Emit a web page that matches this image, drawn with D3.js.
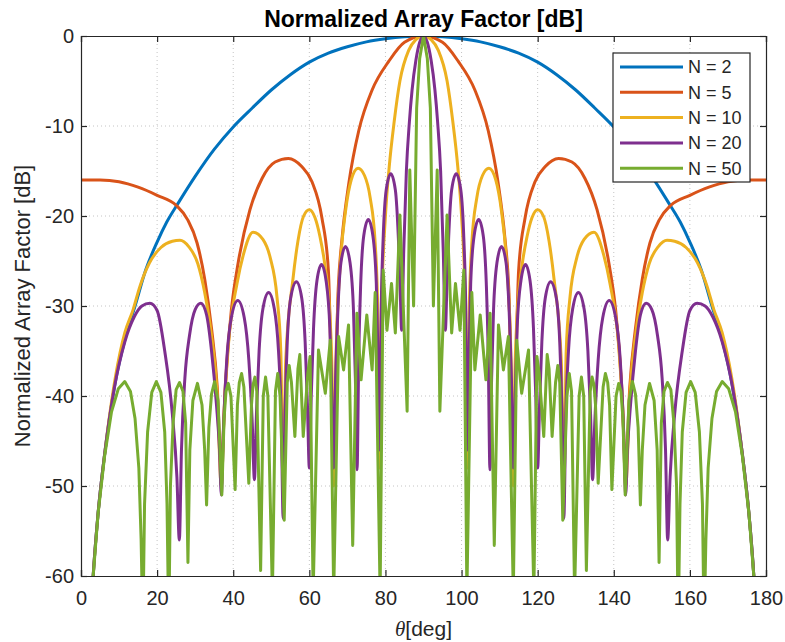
<!DOCTYPE html>
<html>
<head>
<meta charset="utf-8">
<script src="https://cdn.jsdelivr.net/npm/d3@7/dist/d3.min.js"></script>
<style>
  body { margin: 0; background: #fff; }
  text { font-family: "Liberation Sans", Arial, sans-serif; fill: #262626; }
</style>
</head>
<body>
<div id="chart"></div>
<script>
// ---- data: [theta in deg, level in dB] ----
const xTicks = [0, 20, 40, 60, 80, 100, 120, 140, 160, 180];
const yTicks = [0, -10, -20, -30, -40, -50, -60];
const seriesNames = ['N = 2', 'N = 5', 'N = 10', 'N = 20', 'N = 50'];
const seriesColors = ['#0072BD', '#D95319', '#EDB120', '#7E2F8E', '#77AC30'];

const af2 = [[0,-90],[2,-70],[3.2,-60],[4.5,-53],[6.2,-46.5],[9,-38.5],[12,-33],[14.2,-30],[17,-26],[20,-22.9],[22.5,-20.7],[25.5,-18.6],[30,-15.6],[35,-12.6],[40,-10.1],[45,-8],[50,-6],[55,-4.3],[60,-2.9],[65,-1.9],[70,-1.2],[75,-0.65],[80,-0.3],[85,-0.08],[90,0],
  [95,-0.08],[100,-0.3],[105,-0.65],[110,-1.2],[115,-1.9],[120,-2.9],[125,-4.3],[130,-6],[135,-8],[140,-10.1],[145,-12.6],[150,-15.6],[154.5,-18.6],[157.5,-20.7],[160,-22.9],[163,-26],[165.8,-30],[168,-33],[171,-38.5],[173.8,-46.5],[175.5,-53],[176.8,-60],[178,-70],[180,-90]];

const af5 = [[0,-16],[5,-16],[10,-16.2],[15,-16.8],[20,-17.7],[25,-18.8],[28,-20.4],[30.5,-23],[32.5,-27],[34.3,-32.5],[35.8,-39],[36.87,-48],[37.9,-39],[39.5,-30.5],[41.3,-25.2],[44.4,-19.3],[47.6,-15.8],[51,-14],[54.5,-13.6],[58,-14.5],[60.7,-16.2],[63.3,-20.2],[65,-26],[66.42,-45],[67.6,-28],[68.6,-22.5],[70.4,-16.3],[73,-10.5],[76.5,-6],[80.9,-2.8],[85,-0.7],[90,0],
  [95,-0.7],[99.1,-2.8],[103.5,-6],[107,-10.5],[109.6,-16.3],[111.4,-22.5],[112.4,-28],[113.58,-45],[115,-26],[116.7,-20.2],[119.3,-16.2],[122,-14.5],[125.5,-13.6],[129,-14],[132.4,-15.8],[135.6,-19.3],[138.7,-25.2],[140.5,-30.5],[142.1,-39],[143.13,-48],[144.2,-39],[145.7,-32.5],[147.5,-27],[149.5,-23],[152,-20.4],[155,-18.8],[160,-17.7],[165,-16.8],[170,-16.2],[175,-16],[180,-16]];

const af10 = [[0,-90],[2,-70],[3.2,-60],[4.5,-53],[6.2,-46.5],[9,-38],[11.5,-33],[13.7,-30.4],[15.5,-27.8],[18,-25.2],[21,-23.5],[24,-22.8],[26,-22.7],[28.3,-23.4],[30.7,-25.3],[32.5,-28.5],[34.2,-33],[35.8,-40],[36.87,-50],
  [37.6,-42],[38.8,-34],[41,-27.5],[42.6,-24.4],[45.2,-21.8],[47.8,-22.6],[49.7,-24.6],[51.5,-29],[52.5,-35],[53.13,-50],
  [53.8,-36],[55.7,-27],[57,-22.8],[58.5,-20],[60,-19.3],[61.5,-20.2],[62.8,-22.3],[64.1,-25.5],[65.4,-31],[66,-38],[66.42,-50],
  [67,-36],[68.2,-25],[69.5,-19.5],[71,-16],[72.8,-14.7],[74.5,-15.5],[76,-18],[77.3,-23],[78,-31],[78.46,-48],
  [79,-30],[80,-20],[81,-14.5],[82.3,-9.5],[83.8,-5],[86.1,-1.6],[88,-0.4],[90,0],
  [92,-0.4],[93.9,-1.6],[96.2,-5],[97.7,-9.5],[99,-14.5],[100,-20],[101,-30],[101.54,-48],
  [102,-31],[102.7,-23],[104,-18],[105.5,-15.5],[107.2,-14.7],[109,-16],[110.5,-19.5],[111.8,-25],[113,-36],[113.58,-50],
  [114,-38],[114.6,-31],[115.9,-25.5],[117.2,-22.3],[118.5,-20.2],[120,-19.3],[121.5,-20],[123,-22.8],[124.3,-27],[126.2,-36],[126.87,-50],
  [127.5,-35],[128.5,-29],[130.3,-24.6],[132.2,-22.6],[134.8,-21.8],[137.4,-24.4],[139,-27.5],[141.2,-34],[142.4,-42],[143.13,-50],
  [144.2,-40],[145.8,-33],[147.5,-28.5],[149.3,-25.3],[151.7,-23.4],[154,-22.7],[156,-22.8],[159,-23.5],[162,-25.2],[164.5,-27.8],[166.3,-30.4],[168.5,-33],[171,-38],[173.8,-46.5],[175.5,-53],[176.8,-60],[178,-70],[180,-90]];

const af20 = [[0,-90],[2,-70],[3.2,-60],[4.5,-53],[6.2,-46.5],[8.8,-39],[11.5,-34],[14,-31.2],[16,-30],[18.1,-29.7],[20,-30.5],[22,-35],[24,-42],[25.2,-49],[25.84,-56],
  [26.4,-46],[27.3,-38],[28.5,-33.3],[30,-30.4],[31.5,-29.7],[33,-31],[34.3,-35],[35.6,-41],[36.4,-46],[36.87,-51],
  [37.4,-44],[38.3,-36],[39.5,-31.3],[41.2,-29.4],[42.9,-31.3],[44.1,-36],[45,-43],[45.57,-49.3],
  [46.1,-42],[46.8,-35],[47.8,-30.3],[49.3,-28.5],[50.8,-30.3],[51.9,-35],[52.6,-42],[53.13,-53.6],
  [53.6,-42],[54.2,-34],[55.1,-29.1],[56.6,-27.3],[58,-29.1],[58.9,-34],[59.5,-41],[60,-48],
  [60.5,-40],[61.1,-32.5],[62,-27.2],[63.2,-25.4],[64.4,-27.2],[65.4,-32.5],[65.9,-40],[66.42,-48],
  [66.9,-38],[67.5,-30.5],[68.3,-25.2],[69.5,-23.4],[70.7,-25.2],[71.6,-30.5],[72.1,-38],[72.54,-48.2],
  [73,-35],[73.5,-27.5],[74.3,-22.2],[75.5,-20.4],[76.7,-22.2],[77.6,-27.5],[78,-35],[78.46,-46],
  [78.9,-30],[79.4,-22.5],[80.2,-17.1],[81.4,-15.3],[82.6,-17.1],[83.4,-22.5],[83.8,-27],[84.26,-32.7],
  [84.8,-24],[85.5,-15],[86.3,-9.5],[87,-6],[88,-2.7],[89,-0.7],[90,0],
  [91,-0.7],[92,-2.7],[93,-6],[93.7,-9.5],[94.5,-15],[95.2,-24],[95.74,-32.7],
  [96.2,-27],[96.6,-22.5],[97.4,-17.1],[98.6,-15.3],[99.8,-17.1],[100.6,-22.5],[101.1,-30],[101.54,-46],
  [102,-35],[102.4,-27.5],[103.3,-22.2],[104.5,-20.4],[105.7,-22.2],[106.5,-27.5],[107,-35],[107.46,-48.2],
  [107.9,-38],[108.4,-30.5],[109.3,-25.2],[110.5,-23.4],[111.7,-25.2],[112.5,-30.5],[113.1,-38],[113.58,-48],
  [114.1,-40],[114.6,-32.5],[115.6,-27.2],[116.8,-25.4],[118,-27.2],[118.9,-32.5],[119.5,-40],[120,-48],
  [120.5,-41],[121.1,-34],[122,-29.1],[123.4,-27.3],[124.9,-29.1],[125.8,-34],[126.4,-42],[126.87,-53.6],
  [127.4,-42],[128.1,-35],[129.2,-30.3],[130.7,-28.5],[132.2,-30.3],[133.2,-35],[133.9,-42],[134.43,-49.3],
  [135,-43],[135.9,-36],[137.1,-31.3],[138.8,-29.4],[140.5,-31.3],[141.7,-36],[142.6,-44],[143.13,-51],
  [143.6,-46],[144.4,-41],[145.7,-35],[147,-31],[148.5,-29.7],[150,-30.4],[151.5,-33.3],[152.7,-38],[153.6,-46],[154.16,-56],
  [154.8,-49],[156,-42],[158,-35],[160,-30.5],[161.9,-29.7],[164,-30],[166,-31.2],[168.5,-34],[171.2,-39],[173.8,-46.5],[175.5,-53],[176.8,-60],[178,-70],[180,-90]];

const af50 = [[0,-90],[2,-70],[3.2,-60],[4.5,-53],[6.2,-46.7],[8,-41.8],[9.8,-39.2],[11.5,-38.4],[13,-39.5],[14.2,-42.5],[15.2,-48],[15.8,-56],[16.26,-66],
  [16.7,-52],[17.5,-44],[18.6,-39.6],[19.8,-38.4],[21,-39.6],[22,-44],[22.6,-52],[23.07,-66],
  [23.5,-50],[24.2,-43],[25,-39.3],[25.9,-38.5],[26.8,-39.5],[27.5,-43],[28.1,-58.5],
  [28.6,-46],[29.4,-40.5],[30.6,-38.6],[31.8,-41],[32.5,-46],[33,-52.1],
  [33.6,-43.5],[34.3,-39.8],[35.1,-38.4],[36,-40.5],[37,-51],
  [37.6,-42.5],[38.1,-39.5],[38.7,-38.6],[39.4,-40],[40.5,-50.4],
  [41.1,-41],[41.6,-38.5],[42.2,-37.5],[42.8,-39],[44.1,-49.7],
  [44.8,-41],[45.2,-38.8],[45.7,-37.9],[46.2,-39.5],[47.2,-59.4],
  [47.9,-40],[48.5,-37.9],[49.1,-40],[50.3,-62],
  [51.1,-39.5],[51.7,-37.5],[52.3,-40],[53.4,-53.8],
  [54.2,-38.5],[54.7,-36.6],[55.3,-38.5],[56.2,-44.5],
  [57,-37],[57.5,-35.4],[58.4,-44.5],
  [59.6,-37.5],[60.2,-35.6],[61,-62],
  [62.4,-34.9],[64.2,-39.7],[65.5,-33.8],[66.4,-62],
  [67.7,-33.4],[69,-37.1],[70.3,-32.1],[71.4,-56.6],[72.5,-30.8],[73.6,-38.2],[75.1,-31],[76.5,-37.1],[77.3,-28.5],[78.6,-62],
  [79.4,-26],[80.4,-32.7],[81.6,-27.5],[82.6,-33],[83.8,-19.9],[85.7,-41.7],[86.4,-14.9],[87.4,-30],[88.2,-8],[89,-2.5],[90,0],
  [91,-2.5],[91.8,-8],[92.6,-30],[93.6,-14.9],[94.3,-41.7],[96.2,-19.9],[97.4,-33],[98.4,-27.5],[99.6,-32.7],[100.6,-26],
  [101.4,-62],[102.7,-28.5],[103.5,-37.1],[104.9,-31],[106.4,-38.2],[107.5,-30.8],[108.6,-56.6],[109.7,-32.1],[111,-37.1],[112.3,-33.4],
  [113.6,-62],[114.5,-33.8],[115.8,-39.7],[117.6,-34.9],
  [119,-62],[119.8,-35.6],[120.4,-37.5],
  [121.6,-44.5],[122.5,-35.4],[123,-37],
  [123.8,-44.5],[124.7,-38.5],[125.3,-36.6],[125.8,-38.5],
  [126.6,-53.8],[127.7,-40],[128.3,-37.5],[128.9,-39.5],
  [129.7,-62],[130.9,-40],[131.5,-37.9],[132.1,-40],
  [132.8,-59.4],[133.8,-39.5],[134.3,-37.9],[134.8,-38.8],[135.2,-41],
  [135.9,-49.7],[137.2,-39],[137.8,-37.5],[138.4,-38.5],[138.9,-41],
  [139.5,-50.4],[140.6,-40],[141.3,-38.6],[141.9,-39.5],[142.4,-42.5],
  [143,-51],[144,-40.5],[144.9,-38.4],[145.7,-39.8],[146.4,-43.5],
  [147,-52.1],[147.5,-46],[148.2,-41],[149.4,-38.6],[150.6,-40.5],[151.4,-46],
  [151.9,-58.5],[152.5,-43],[153.2,-39.5],[154.1,-38.5],[155,-39.3],[155.8,-43],[156.5,-50],
  [156.93,-66],[157.4,-52],[158,-44],[159,-39.6],[160.2,-38.4],[161.4,-39.6],[162.5,-44],[163.3,-52],
  [163.74,-66],[164.2,-56],[164.8,-48],[165.8,-42.5],[167,-39.5],[168.5,-38.4],[170.2,-39.2],[172,-41.8],[173.8,-46.7],[175.5,-53],[176.8,-60],[178,-70],[180,-90]];

const seriesData = [af2, af5, af10, af20, af50];

// ---- layout ----
const width = 785, height = 642;
const margin = { top: 36, right: 19, bottom: 66, left: 81 };
const plotW = width - margin.left - margin.right;
const plotH = height - margin.top - margin.bottom;

const svg = d3.select('#chart')
  .append('svg')
    .attr('width', width)
    .attr('height', height)
    .style('background', 'white');

const x = d3.scaleLinear().domain([0, 180]).range([0, plotW]);
const y = d3.scaleLinear().domain([-60, 0]).range([plotH, 0]);

const g = svg.append('g')
  .attr('transform', 'translate(' + margin.left + ',' + margin.top + ')');

// dotted grid
g.append('g')
  .selectAll('line')
  .data(xTicks.slice(1, -1))
  .join('line')
    .attr('x1', d => x(d)).attr('x2', d => x(d))
    .attr('y1', 0).attr('y2', plotH)
    .attr('stroke', '#c4c4c4').attr('stroke-width', 1)
    .attr('stroke-dasharray', '1,3');
g.append('g')
  .selectAll('line')
  .data(yTicks.slice(1, -1))
  .join('line')
    .attr('y1', d => y(d)).attr('y2', d => y(d))
    .attr('x1', 0).attr('x2', plotW)
    .attr('stroke', '#c4c4c4').attr('stroke-width', 1)
    .attr('stroke-dasharray', '1,3');

// clip for the curves
svg.append('defs').append('clipPath').attr('id', 'plotclip')
  .append('rect').attr('width', plotW).attr('height', plotH);

const line = d3.line()
  .x(d => x(d[0]))
  .y(d => y(d[1]));

const curves = g.append('g').attr('clip-path', 'url(#plotclip)');
seriesData.forEach((data, i) => {
  curves.append('path')
    .datum(data)
    .attr('fill', 'none')
    .attr('stroke', seriesColors[i])
    .attr('stroke-width', 3)
    .attr('stroke-linejoin', 'round')
    .attr('d', line.curve(i === 4 ? d3.curveLinear : d3.curveMonotoneX));
});

// axes, ticks pointing inward (matlab style), plain hyphen for negatives
const axisColor = '#262626';
const plainFmt = d => String(d);
g.append('g')
  .attr('transform', 'translate(0,' + plotH + ')')
  .call(d3.axisBottom(x).tickValues(xTicks).tickSize(-6).tickPadding(15).tickFormat(plainFmt));
g.append('g')
  .call(d3.axisLeft(y).tickValues(yTicks).tickSize(-6).tickPadding(7).tickFormat(plainFmt));
g.append('g')
  .call(d3.axisTop(x).tickValues(xTicks).tickSize(-6).tickFormat(''));
g.append('g')
  .attr('transform', 'translate(' + plotW + ',0)')
  .call(d3.axisRight(y).tickValues(yTicks).tickSize(-6).tickFormat(''));

g.selectAll('.domain, .tick line').attr('stroke', axisColor).attr('stroke-width', 1.2);
g.selectAll('.tick text')
  .style('font-family', '"Liberation Sans", Arial, sans-serif')
  .style('font-size', '20px')
  .attr('fill', axisColor);

// title and labels
svg.append('text')
  .attr('x', margin.left + plotW / 2)
  .attr('y', 27)
  .attr('text-anchor', 'middle')
  .style('font-size', '23px')
  .style('font-weight', 'bold')
  .style('fill', '#000')
  .text('Normalized Array Factor [dB]');

const xl = svg.append('text')
  .attr('x', margin.left + plotW / 2)
  .attr('y', 636)
  .attr('text-anchor', 'middle')
  .style('font-size', '21px');
xl.append('tspan').style('font-style', 'italic').style('font-family', '"Liberation Serif", serif').text('θ');
xl.append('tspan').text('[deg]');

svg.append('text')
  .attr('transform', 'translate(30,' + (margin.top + plotH / 2) + ') rotate(-90)')
  .attr('text-anchor', 'middle')
  .style('font-size', '22px')
  .text('Normalized Array Factor [dB]');

// legend
const legend = svg.append('g').attr('transform', 'translate(613,53)');
legend.append('rect')
  .attr('width', 137).attr('height', 129)
  .attr('fill', 'white').attr('stroke', axisColor).attr('stroke-width', 1.2);
seriesNames.forEach((name, i) => {
  const row = legend.append('g').attr('transform', 'translate(0,' + (14 + i * 25.3) + ')');
  row.append('line')
    .attr('x1', 7).attr('x2', 70)
    .attr('stroke', seriesColors[i]).attr('stroke-width', 3);
  row.append('text')
    .attr('x', 75).attr('y', 0)
    .attr('dy', '0.35em')
    .style('font-size', '18px')
    .text(name);
});
</script>
</body>
</html>
